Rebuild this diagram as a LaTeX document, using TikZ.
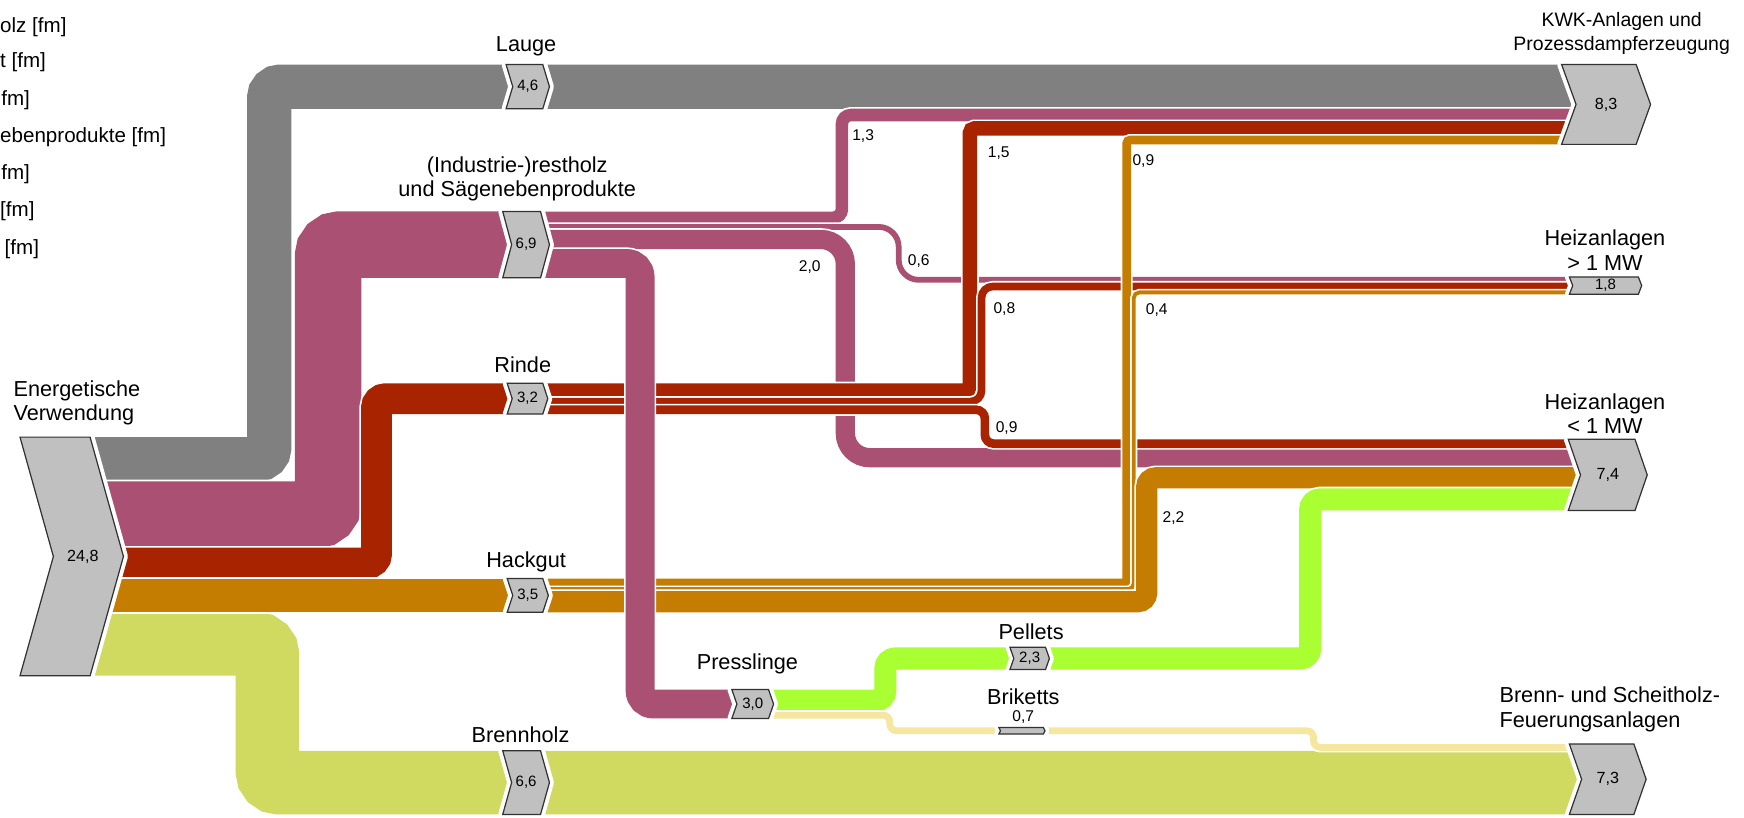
\documentclass[tikz,border=0pt]{standalone}
\usepackage{fontspec}
\setmainfont{Liberation Sans}
\definecolor{cgray}{RGB}{128,128,128}
\definecolor{cpink}{RGB}{170,80,114}
\definecolor{cred}{RGB}{168,36,0}
\definecolor{corange}{RGB}{196,125,0}
\definecolor{cbrenn}{RGB}{208,218,96}
\definecolor{cgreen}{RGB}{170,255,50}
\definecolor{cbrik}{RGB}{245,230,160}
\definecolor{cnode}{RGB}{192,192,192}
\definecolor{cnodeline}{RGB}{50,50,50}
\tikzset{
  flow/.style 2 args={draw=#1, line width=#2pt, preaction={draw=white, line width=#2pt+3pt}},
  chevnode/.style={fill=cnode, draw=cnodeline, line width=1.1pt, preaction={draw=white, line width=8pt, line join=round}},
  lbl/.style={font=\fontsize{19.5}{22}\selectfont, inner sep=0pt, align=center},
  kwklbl/.style={font=\fontsize{17.5}{22}\selectfont, inner sep=0pt, align=center},
  leg/.style={font=\fontsize{18.5}{21}\selectfont, inner sep=0pt},
  numlbl/.style={font=\fontsize{14}{15}\selectfont, inner sep=0pt},
}
% #1 name, #2 L, #3 T, #4 B, #5 W, #6 d, #7 text, #8 font size, #9 text x shift
\newcommand\chev[9]{%
  \filldraw[chevnode] (#2,#3) -- ({#2+#5},#3) -- ({#2+#5+#6},{(#3+#4)/2}) -- ({#2+#5},#4) -- (#2,#4) -- ({#2+#6},{(#3+#4)/2}) -- cycle;
  \node[inner sep=0pt, font=\fontsize{#8}{#8}\selectfont] (#1) at ({#2+(#5+#6)/2+#9},{(#3+#4)/2}) {#7};
}
\begin{document}
\begin{tikzpicture}[x=1pt, y=-1pt]
\useasboundingbox (0,0) rectangle (1568,735);
% legend fragments
\node[leg, anchor=west] (lg1) at (0,24) {olz [fm]};
\node[leg, anchor=west] (lg2) at (0,56) {t [fm]};
\node[leg, anchor=west] (lg3) at (1,90) {fm]};
\node[leg, anchor=west] (lg4) at (0,123) {ebenprodukte [fm]};
\node[leg, anchor=west] (lg5) at (1,157) {fm]};
\node[leg, anchor=west] (lg6) at (0,190) {[fm]};
\node[leg, anchor=west] (lg7) at (4,224) {[fm]};
% flows
\draw[flow={cgray}{39.79}, rounded corners=10pt] (60,412.9) -- (242,412.9) -- (242,77.9) -- (1430,77.9);
\draw[flow={cbrenn}{57.09}, rounded corners=10pt] (60,579) -- (240.5,579) -- (240.5,703.6) -- (1430,703.6);
\draw[flow={cpink}{59.69}, rounded corners=10pt] (60,462.6) -- (295,462.6) -- (295,220) -- (470,220);
\draw[flow={cred}{27.68}, rounded corners=8pt] (60,506.3) -- (338.5,506.3) -- (338.5,358.5) -- (470,358.5);
\draw[flow={corange}{30.28}] (60,535.3) -- (470,535.3);
% restholz subflows
\draw[flow={cpink}{11.25}, rounded corners=8pt] (475,195.8) -- (757,195.8) -- (757,103.4) -- (1430,103.4);
\draw[flow={cpink}{5.19}, rounded corners=18pt] (475,204) -- (808,204) -- (808,251.6) -- (1430,251.6);
\draw[flow={cpink}{17.3}, rounded corners=22pt] (475,215.3) -- (760,215.3) -- (760,411.5) -- (1430,411.5);
% rinde subflows
\draw[flow={cred}{12.98}, rounded corners=4pt] (475,351.1) -- (872,351.1) -- (872,115.5) -- (1430,115.5);
\draw[flow={cred}{6.92}, rounded corners=10pt] (475,361.1) -- (882.5,361.1) -- (882.5,257.6) -- (1430,257.6);
\draw[flow={cred}{7.79}, rounded corners=8pt] (475,368.4) -- (885.5,368.4) -- (885.5,398.9) -- (1430,398.9);
% hackgut subflows
\draw[flow={corange}{7.79}, rounded corners=3pt] (475,524.1) -- (1013,524.1) -- (1013,125.9) -- (1430,125.9);
\draw[flow={corange}{3.46}, rounded corners=5pt] (475,529.7) -- (1019.3,529.7) -- (1019.3,262.9) -- (1430,262.9);
\draw[flow={corange}{19.03}, rounded corners=8pt] (475,541) -- (1031,541) -- (1031,429.6) -- (1430,429.6);
% presslinge
\draw[flow={cpink}{25.95}, rounded corners=12pt] (475,236.9) -- (575.5,236.9) -- (575.5,633) -- (670,633);
\draw[flow={cgreen}{19.9}, rounded corners=9pt] (675,629.9) -- (796,629.9) -- (796,592) -- (1178,592) -- (1178,449) -- (1430,449);
\draw[flow={cbrik}{6.06}, rounded corners=6pt] (675,643) -- (800,643) -- (800,657) -- (1181,657) -- (1181,672) -- (1430,672);
% nodes
\chev{src}{18}{393}{607.6}{63}{30}{24,8}{14.5}{10}
\chev{lauge}{455}{58}{97.8}{33}{6}{4,6}{13.5}{0}
\chev{rest}{452}{190.2}{249.8}{34}{8}{6,9}{13.5}{0}
\chev{rinde}{456}{344.6}{372.3}{32}{4.5}{3,2}{13.5}{0}
\chev{hack}{456}{520.2}{550.5}{32}{5}{3,5}{13.5}{0}
\chev{brenn}{452}{675}{732.2}{34}{8}{6,6}{13.5}{0}
\chev{press}{658}{620}{646}{33}{4.5}{3,0}{13.5}{0}
\chev{pell}{908}{582}{602}{32}{3.5}{2,3}{13.5}{0}
\chev{brik}{898}{654}{660}{40}{1.5}{}{13}{0}
\chev{kwk}{1404}{58}{129.8}{67}{13}{8,3}{14.5}{0}
\chev{hgross}{1411}{249}{264.6}{62}{3}{1,8}{13.5}{0}
\chev{hklein}{1410}{395}{459}{60}{11}{7,4}{14.5}{0}
\chev{bs}{1411}{669}{732.2}{58}{11}{7,3}{14.5}{0}
% labels
\node[lbl, anchor=west, align=left] (tsrc) at (12,362) {Energetische\\Verwendung};
\node[lbl] (tlauge) at (473,42) {Lauge};
\node[lbl] (trest) at (465,161) {(Industrie-)restholz\\und Sägenebenprodukte};
\node[lbl] (trinde) at (470,328) {Rinde};
\node[lbl] (thack) at (473,505) {Hackgut};
\node[lbl] (tbrenn) at (468,661) {Brennholz};
\node[lbl] (tpress) at (672,597) {Presslinge};
\node[lbl] (tpell) at (927,568) {Pellets};
\node[lbl] (tbrik) at (920,626) {Briketts};
\node[numlbl] (vbrik) at (920,645) {0,7};
\node[kwklbl] (tkwk) at (1458,30) {KWK-Anlagen und\\Prozessdampferzeugung};
\node[lbl] (thg) at (1443,225) {Heizanlagen\\> 1 MW};
\node[lbl] (thk) at (1443,372) {Heizanlagen\\< 1 MW};
\node[lbl, anchor=west, align=left] (tbs) at (1348,638) {Brenn- und Scheitholz-\\Feuerungsanlagen};
% flow values
\node[numlbl] (v13) at (776,122) {1,3};
\node[numlbl] (v15) at (898,138) {1,5};
\node[numlbl] (v09o) at (1028,145) {0,9};
\node[numlbl] (v06) at (826,235) {0,6};
\node[numlbl] (v20) at (728,240) {2,0};
\node[numlbl] (v08) at (903,278) {0,8};
\node[numlbl] (v04) at (1040,279) {0,4};
\node[numlbl] (v09r) at (905,385) {0,9};
\node[numlbl] (v22) at (1055,466) {2,2};
\end{tikzpicture}
\end{document}
